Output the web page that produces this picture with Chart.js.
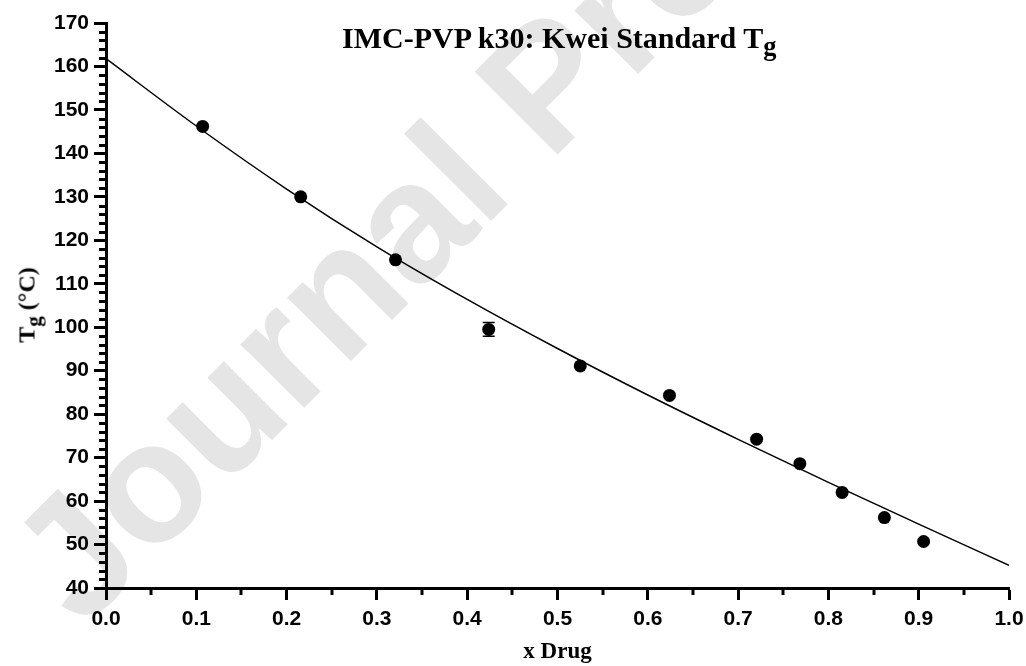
<!DOCTYPE html>
<html>
<head>
<meta charset="utf-8">
<script src="https://cdn.jsdelivr.net/npm/chart.js@4.4.1/dist/chart.umd.min.js"></script>
<style>
html,body{margin:0;padding:0;background:#fff;}
#wrap{position:relative;width:1026px;height:666px;overflow:hidden;}
#wrap canvas{position:absolute;left:0;top:0;}
.lbl{position:absolute;font-family:"Liberation Serif","Times New Roman",serif;font-weight:bold;color:#000;white-space:nowrap;}
#title{left:342px;top:23px;font-size:30px;line-height:30px;}
#ytitle{left:27px;top:305px;font-size:24px;line-height:24px;transform:translate(-50%,-50%) rotate(-90deg);}
.sub{font-size:0.88em;position:relative;top:0.28em;}
</style>
</head>
<body>
<div id="wrap">
  <canvas id="c"></canvas>
  <div id="title" class="lbl">IMC-PVP k30: Kwei Standard T<span class="sub">g</span></div>
  <div id="ytitle" class="lbl">T<span class="sub">g</span> (°C)</div>
</div>
<script>
// ---- data ----
const drugX  = [0.107, 0.2156, 0.3206, 0.4238, 0.5252, 0.624, 0.7205, 0.7684, 0.8152, 0.862, 0.9054];
const tgMean = [146.2, 130.0, 115.5, 99.5, 91.1, 84.3, 74.25, 68.6, 62.0, 56.2, 50.7];
const tgErr  = [0, 0, 0, 1.6, 0, 0, 0, 0, 0, 0, 0];
const fitX   = [0, 0.1, 0.2, 0.3, 0.4, 0.5, 0.6, 0.7, 0.8, 0.9, 1.0];
const fitTg  = [161.8, 146.3, 131.8, 118.5, 106.4, 95.1, 84.4, 74.2, 64.3, 54.7, 45.2];
const xTickValues = [0, 0.1, 0.2, 0.3, 0.4, 0.5, 0.6, 0.7, 0.8, 0.9, 1.0];
const yTickValues = [40, 50, 60, 70, 80, 90, 100, 110, 120, 130, 140, 150, 160, 170];
const watermarkText = 'Journal Pre-proof';

const canvas = document.getElementById('c');
canvas.width = 1026; canvas.height = 666;

const watermark = {
  id: 'watermark',
  beforeDraw(chart) {
    const ctx = chart.ctx;
    ctx.save();
    ctx.translate(82, 630);
    ctx.rotate(-45 * Math.PI / 180);
    ctx.font = 'bold 170px "Liberation Sans", Arial, sans-serif';
    ctx.fillStyle = '#e5e5e5';
    ctx.textBaseline = 'alphabetic';
    ctx.fillText(watermarkText, 0, 0);
    ctx.restore();
  }
};

const minorTicks = {
  id: 'minorTicks',
  afterDraw(chart) {
    const ctx = chart.ctx, xs = chart.scales.x, ys = chart.scales.y;
    const area = chart.chartArea;
    ctx.save();
    ctx.strokeStyle = '#000';
    ctx.lineWidth = 3;
    ctx.lineCap = 'butt';
    ctx.beginPath();
    for (let i = 0; i < 10; i++) {
      const v = 0.05 + i * 0.1;
      const px = Math.round(xs.getPixelForValue(v));
      ctx.moveTo(px, area.bottom);
      ctx.lineTo(px, area.bottom + 7);
    }
    for (let v = 42; v < 170; v += 2) {
      if (v % 10 === 0) continue;
      const py = Math.round(ys.getPixelForValue(v)) + 0.5;
      ctx.moveTo(area.left, py);
      ctx.lineTo(area.left - 7, py);
    }
    ctx.stroke();
    ctx.restore();
  }
};

const errorBars = {
  id: 'errorBars',
  afterDatasetsDraw(chart) {
    const ctx = chart.ctx, xs = chart.scales.x, ys = chart.scales.y;
    ctx.save();
    ctx.strokeStyle = '#000';
    ctx.lineWidth = 1.5;
    drugX.forEach((x, i) => {
      const e = tgErr[i];
      if (!e) return;
      const px = xs.getPixelForValue(x);
      const pTop = ys.getPixelForValue(tgMean[i] + e);
      const pBot = ys.getPixelForValue(tgMean[i] - e);
      ctx.beginPath();
      ctx.moveTo(px, pTop); ctx.lineTo(px, pBot);
      ctx.moveTo(px - 6, pTop); ctx.lineTo(px + 6, pTop);
      ctx.moveTo(px - 6, pBot); ctx.lineTo(px + 6, pBot);
      ctx.stroke();
    });
    ctx.restore();
  }
};

const tickFont = { family: '"Liberation Sans", Arial, sans-serif', size: 21, weight: 'bold' };

new Chart(canvas, {
  type: 'scatter',
  data: {
    datasets: [
      {
        label: 'Kwei fit',
        data: fitX.map((x, i) => ({ x: x, y: fitTg[i] })),
        showLine: true,
        borderColor: '#000',
        borderWidth: 1.5,
        pointRadius: 0,
        pointHoverRadius: 0,
        cubicInterpolationMode: 'monotone',
        order: 2
      },
      {
        label: 'Tg',
        data: drugX.map((x, i) => ({ x: x, y: tgMean[i] })),
        showLine: false,
        pointRadius: 6.5,
        pointBackgroundColor: '#000',
        pointBorderWidth: 0,
        order: 1
      }
    ]
  },
  options: {
    responsive: false,
    animation: false,
    devicePixelRatio: 1,
    layout: { padding: { top: 23, right: 17, left: 0, bottom: 0 } },
    plugins: { legend: { display: false }, tooltip: { enabled: false }, title: { display: false } },
    scales: {
      x: {
        type: 'linear', min: 0, max: 1,
        afterBuildTicks: s => { s.ticks = xTickValues.map(v => ({ value: v })); },
        afterFit: s => { s.height = 78; s.paddingLeft = 0; s.paddingRight = 0; },
        ticks: { callback: v => Number(v).toFixed(1), color: '#000', font: tickFont, padding: 7, maxRotation: 0, autoSkip: false },
        grid: { drawOnChartArea: false, drawTicks: true, tickLength: 12, tickWidth: 3, tickColor: '#000' },
        border: { display: true, color: '#000', width: 3 },
        title: { display: true, text: 'x Drug', color: '#000',
                 font: { family: '"Liberation Serif", "Times New Roman", serif', size: 23, weight: 'bold' },
                 padding: { top: 0, bottom: 0 } }
      },
      y: {
        type: 'linear', min: 40, max: 170,
        afterBuildTicks: s => { s.ticks = yTickValues.map(v => ({ value: v })); },
        afterFit: s => { s.width = 106; s.paddingTop = 0; s.paddingBottom = 0; },
        ticks: { callback: v => String(v), color: '#000', font: tickFont, padding: 5, autoSkip: false },
        grid: { drawOnChartArea: false, drawTicks: true, tickLength: 12, tickWidth: 3, tickColor: '#000' },
        border: { display: true, color: '#000', width: 3 }
      }
    }
  },
  plugins: [watermark, minorTicks, errorBars]
});
</script>
</body>
</html>
